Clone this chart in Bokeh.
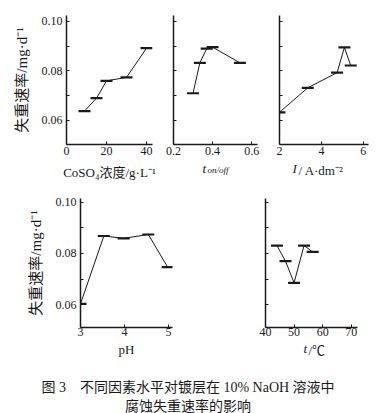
from bokeh.plotting import figure
from bokeh.models import Range1d, FixedTicker, Div, Title
from bokeh.layouts import row, column
from bokeh.embed import file_html
from bokeh.resources import INLINE

# ---- data ----
co_x = [9, 15, 20, 30, 40]
co_y = [0.0638, 0.0690, 0.0760, 0.0774, 0.0892]

ton_x = [0.30, 0.335, 0.37, 0.40, 0.54]
ton_y = [0.0710, 0.0833, 0.0890, 0.0896, 0.0833]

cur_x = [2.0, 3.35, 4.75, 5.1, 5.4]
cur_y = [0.0633, 0.0732, 0.0793, 0.0895, 0.0822]

ph_x = [3.0, 3.53, 3.98, 4.54, 4.98]
ph_y = [0.0604, 0.0868, 0.0859, 0.0874, 0.0747]

tmp_x = [44, 47, 50, 53.5, 56.5]
tmp_y = [0.0831, 0.0770, 0.0686, 0.0831, 0.0806]

y_ticks = [0.06, 0.07, 0.08, 0.09, 0.10]
y_tick_labels = {0.06: "0.06", 0.07: "", 0.08: "0.08", 0.09: "", 0.10: "0.10"}

SERIF = "Liberation Serif, Noto Sans CJK SC"
INK = "#1a1a1a"


def panel(w, h, xr, yr, xticks, mb_l, mb_r, mb_t, mb_b, ylab=None, show_ylabels=False,
          xlabel="", lab_sto=2, title_sto=7):
    p = figure(width=w, height=h, x_range=Range1d(*xr), y_range=Range1d(*yr),
               output_backend="svg", toolbar_location=None,
               min_border_left=mb_l, min_border_right=mb_r,
               min_border_top=mb_t, min_border_bottom=mb_b)
    p.grid.visible = False
    p.outline_line_color = None
    p.background_fill_color = "white"
    p.border_fill_color = "white"
    for ax in (p.xaxis[0], p.yaxis[0]):
        ax.axis_line_color = INK
        ax.axis_line_width = 1.5
        ax.major_tick_line_color = INK
        ax.major_tick_line_width = 1
        ax.major_tick_in = 3
        ax.major_tick_out = 0
        ax.minor_tick_line_color = None
        ax.major_label_text_font = SERIF
        ax.major_label_text_font_size = "12px"
        ax.major_label_text_color = INK
        ax.axis_label_text_font = SERIF
        ax.axis_label_text_font_style = "normal"
        ax.axis_label_text_color = INK
    p.xaxis.ticker = FixedTicker(ticks=xticks)
    p.xaxis.major_label_standoff = lab_sto
    p.xaxis.axis_label = xlabel
    p.xaxis.axis_label_text_font_size = "13px"
    p.xaxis.axis_label_standoff = title_sto
    p.yaxis.ticker = FixedTicker(ticks=y_ticks)
    if show_ylabels:
        p.yaxis.major_label_overrides = y_tick_labels
        p.yaxis.major_label_standoff = 4
    else:
        p.yaxis.major_label_overrides = {t: "" for t in y_ticks}
    if ylab:
        p.yaxis.axis_label = ylab
        p.yaxis.axis_label_text_font_size = "15px"
        p.yaxis.axis_label_standoff = 9
    return p


def two_part_title(p, first, second, off1, off2, s1, size2, italic2=False):
    """Axis title made of an italic symbol followed by the rest on the same line."""
    p.add_layout(Title(text=first, align="left", offset=off1, vertical_align="top", standoff=s1,
                       text_font=SERIF, text_font_style="italic", text_font_size="13px",
                       text_color=INK), "below")
    s2 = -2 * 15 - s1 + (4 if size2 != "13px" else 0)
    p.add_layout(Title(text=second, align="left", offset=off2, vertical_align="top", standoff=s2,
                       text_font=SERIF, text_font_style="italic" if italic2 else "normal",
                       text_font_size=size2, text_color=INK), "below")


def draw(p, xs, ys):
    p.line(xs, ys, line_color=INK, line_width=1)
    p.scatter(xs, ys, marker="dash", size=12, line_color=INK, line_width=2.2)


YL = "失重速率/mg·d⁻¹"
TOP_Y = (0.0503, 0.1024)
BOT_Y = (0.0512, 0.1014)

# top row
p1 = panel(160, 182, (0, 43), TOP_Y, [0, 20, 40], 66, 8, 15, 38,
           ylab=YL, show_ylabels=True, xlabel="CoSO₄浓度/g·L⁻¹")
draw(p1, co_x, co_y)

p2 = panel(110, 182, (0.2, 0.63), TOP_Y, [0.2, 0.4, 0.6], 13, 13, 15, 38, xlabel="")
draw(p2, ton_x, ton_y)
two_part_title(p2, "t", "on/off", 29, 34, 7, "9px", italic2=True)

p3 = panel(106, 182, (2, 6.25), TOP_Y, [2, 4, 6], 9, 8, 15, 38, xlabel="")
draw(p3, cur_x, cur_y)
two_part_title(p3, "I", "/ A·dm⁻²", 13, 19, 7, "13px")

# bottom row
p4 = panel(200, 180, (3, 5.09), BOT_Y, [3, 4, 5], 80, 28, 16, 35,
           ylab=YL, show_ylabels=True, xlabel="pH", lab_sto=0, title_sto=3)
draw(p4, ph_x, ph_y)

p5 = panel(174, 180, (40, 72.2), BOT_Y, [40, 50, 60, 70], 65, 17, 16, 35, xlabel="",
           lab_sto=0, title_sto=3)
draw(p5, tmp_x, tmp_y)
two_part_title(p5, "t", "/℃", 38, 43, 4, "13px")

caption = Div(
    text=(
        "<div style='font-family:\"Liberation Serif\",\"Noto Sans CJK SC\";font-size:14px;"
        "color:#1a1a1a;text-align:center;line-height:19px;width:366px;padding-top:11px;'>"
        "图&nbsp;3&nbsp;&nbsp;&nbsp;&nbsp;不同因素水平对镀层在 10% NaOH 溶液中<br>"
        "腐蚀失重速率的影响</div>"
    ),
    width=366, height=46,
)

layout = column(row(p1, p2, p3), row(p4, p5), caption)

with open("out.html", "w") as f:
    f.write(file_html(layout, INLINE))
